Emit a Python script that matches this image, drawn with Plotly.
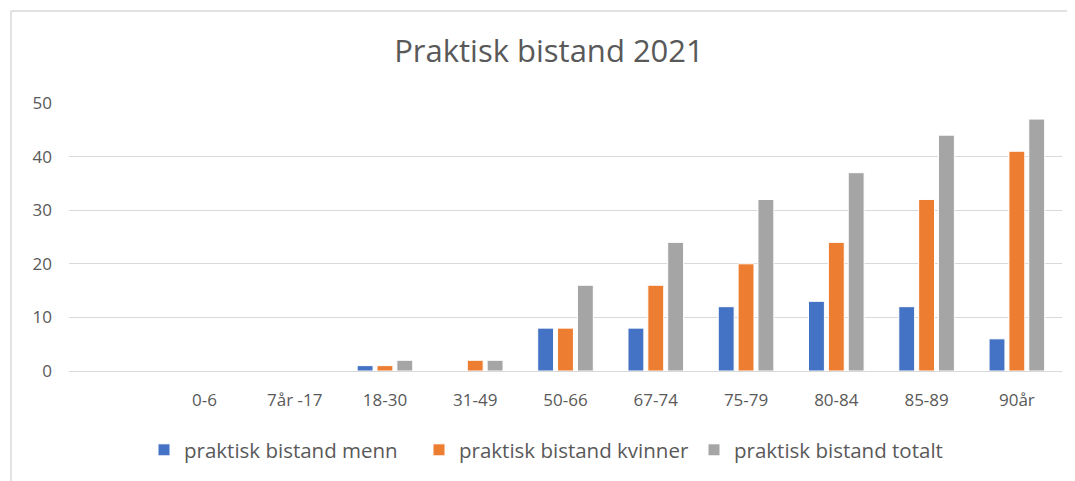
import plotly.graph_objects as go

categories = ["", "0-6", "7år -17", "18-30", "31-49", "50-66", "67-74", "75-79", "80-84", "85-89", "90år"]
menn = [None, 0, 0, 1, 0, 8, 8, 12, 13, 12, 6]
kvinner = [None, 0, 0, 1, 2, 8, 16, 20, 24, 32, 41]
totalt = [None, 0, 0, 2, 2, 16, 24, 32, 37, 44, 47]
series_names = ["praktisk bistand menn", "praktisk bistand kvinner", "praktisk bistand totalt"]
colors = ["#4472C4", "#ED7D31", "#A5A5A5"]
y_ticks = [0, 10, 20, 30, 40, 50]

FONT = "Open Sans"
TXT = "#595959"
OFF = 8  # default page body margin

fig = go.Figure()
for name, vals, col in zip(series_names, [menn, kvinner, totalt], colors):
    fig.add_trace(go.Bar(
        x=categories, y=vals, name=name,
        marker=dict(color=col, line=dict(color="white", width=1)),
    ))

W, H = 1075, 481
L = 69 - OFF
T = 103 - OFF
pw = 1062 - 69
ph = 371 - 103
R = W - L - pw
B = H - T - ph

def px(x):
    return (x - OFF - L) / pw

def py(y):
    return (T + ph - (y - OFF)) / ph

fig.update_layout(
    width=W, height=H,
    margin=dict(l=L, r=R, t=T, b=B),
    paper_bgcolor="white", plot_bgcolor="white",
    barmode="group", bargap=0.34, bargroupgap=0.2,
    font=dict(family=FONT, color=TXT, size=17),
    title=dict(text="Praktisk bistand 2021", x=(549 - OFF) / W, xanchor="center",
               y=1 - (51 - OFF) / H, yanchor="middle",
               font=dict(family=FONT, size=31, color=TXT)),
    showlegend=True,
    legend=dict(orientation="h", x=(171 - OFF - 27) / W, xanchor="left", xref="container",
                y=1 - (450 - OFF) / H, yref="container", yanchor="middle",
                font=dict(family=FONT, size=20.5, color=TXT),
                entrywidth=230, entrywidthmode="pixels",
                itemwidth=30, traceorder="normal"),
    xaxis=dict(type="category", categoryorder="array", categoryarray=categories,
               showgrid=False, showline=False, zeroline=False, ticks="",
               tickfont=dict(family=FONT, size=17, color=TXT),
               ticklabelstandoff=17, fixedrange=True),
    yaxis=dict(range=[0, 50], tickvals=y_ticks, showgrid=True, gridcolor="#D9D9D9",
               gridwidth=1, zeroline=True, zerolinecolor="#D9D9D9", zerolinewidth=1,
               showline=False, ticks="",
               tickfont=dict(family=FONT, size=17, color=TXT),
               ticklabelstandoff=16, fixedrange=True),
    shapes=[
        dict(type="line", xref="paper", yref="paper", x0=px(11), x1=px(1090), y0=py(11), y1=py(11),
             line=dict(color="#D9D9D9", width=1.5)),
        dict(type="line", xref="paper", yref="paper", x0=px(11), x1=px(11), y0=py(11), y1=py(500),
             line=dict(color="#D9D9D9", width=1.5)),
    ],
)

fig.write_html("out.html")
